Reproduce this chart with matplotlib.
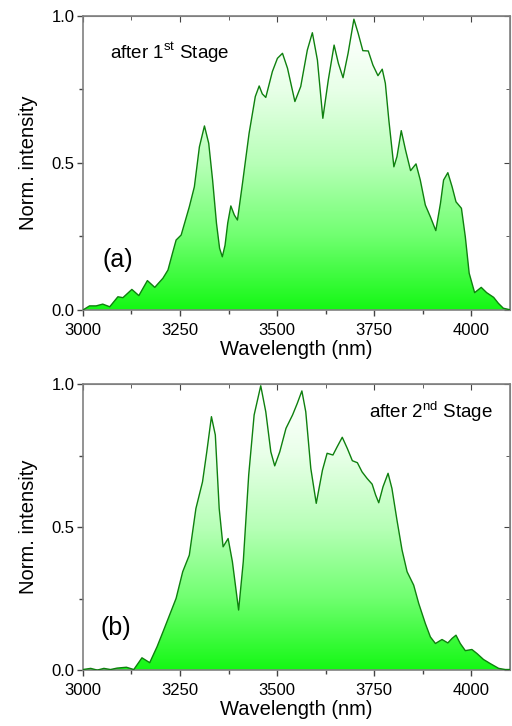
import matplotlib
matplotlib.use("Agg")
import matplotlib.pyplot as plt
import numpy as np
from matplotlib.colors import LinearSegmentedColormap

plt.rcParams['font.family'] = ['Liberation Sans', 'DejaVu Sans']
plt.rcParams['mathtext.fontset'] = 'custom'
plt.rcParams['mathtext.rm'] = 'Liberation Sans'

# (a) after 1st stage
wl_a = [3000, 3017, 3034, 3051, 3069, 3090, 3103, 3126, 3144, 3166, 3185, 3206, 3219,
        3230, 3240, 3253, 3274, 3287, 3300, 3313, 3324, 3334, 3344, 3352, 3359, 3366,
        3373, 3381, 3390, 3398, 3411, 3428, 3444, 3454, 3462, 3471, 3488, 3501, 3514,
        3527, 3546, 3561, 3578, 3591, 3604, 3618, 3632, 3647, 3658, 3670, 3683, 3698,
        3709, 3721, 3735, 3747, 3760, 3771, 3779, 3788, 3801, 3809, 3820, 3831, 3844,
        3858, 3869, 3882, 3895, 3909, 3921, 3929, 3940, 3951, 3961, 3975, 3985, 3995,
        4009, 4026, 4040, 4058, 4070, 4083, 4103]
int_a = [0.0, 0.014, 0.014, 0.02, 0.011, 0.045, 0.042, 0.07, 0.049, 0.1, 0.077, 0.108, 0.136,
         0.19, 0.238, 0.255, 0.351, 0.419, 0.555, 0.626, 0.567, 0.442, 0.295, 0.21, 0.181, 0.22,
         0.296, 0.354, 0.323, 0.306, 0.431, 0.601, 0.726, 0.762, 0.735, 0.723, 0.811, 0.856, 0.873,
         0.822, 0.709, 0.76, 0.884, 0.943, 0.85, 0.652, 0.782, 0.901, 0.839, 0.79, 0.873, 0.989,
         0.941, 0.882, 0.881, 0.833, 0.797, 0.819, 0.771, 0.646, 0.487, 0.522, 0.61, 0.544, 0.474,
         0.497, 0.442, 0.357, 0.317, 0.27, 0.363, 0.442, 0.467, 0.419, 0.368, 0.346, 0.249, 0.125,
         0.059, 0.077, 0.059, 0.043, 0.023, 0.006, 0.0]

# (b) after 2nd stage
wl_b = [3000, 3020, 3037, 3054, 3071, 3088, 3112, 3131, 3152, 3172, 3191, 3208, 3223, 3240,
        3257, 3274, 3291, 3308, 3319, 3331, 3341, 3351, 3361, 3374, 3385, 3401, 3413, 3427,
        3441, 3458, 3471, 3484, 3494, 3507, 3523, 3540, 3552, 3564, 3574, 3587, 3601, 3617,
        3629, 3644, 3655, 3668, 3681, 3694, 3707, 3719, 3732, 3745, 3754, 3762, 3773, 3786,
        3796, 3809, 3822, 3835, 3852, 3865, 3882, 3895, 3908, 3925, 3940, 3951, 3961, 3972,
        3985, 4002, 4015, 4032, 4049, 4071, 4088, 4104]
int_b = [0.002, 0.006, 0.0, 0.006, 0.002, 0.007, 0.01, 0.002, 0.043, 0.026, 0.082, 0.14, 0.192, 0.251,
         0.344, 0.402, 0.565, 0.658, 0.763, 0.886, 0.822, 0.565, 0.431, 0.46, 0.379, 0.21, 0.379, 0.682,
         0.892, 0.994, 0.903, 0.763, 0.714, 0.763, 0.845, 0.892, 0.932, 0.976, 0.903, 0.705, 0.583, 0.699,
         0.758, 0.752, 0.781, 0.814, 0.775, 0.732, 0.725, 0.693, 0.67, 0.65, 0.612, 0.585, 0.641, 0.688,
         0.635, 0.524, 0.42, 0.344, 0.297, 0.233, 0.163, 0.116, 0.093, 0.107, 0.095, 0.111, 0.122, 0.093,
         0.068, 0.072, 0.058, 0.037, 0.023, 0.006, 0.002, 0.002]

grad = LinearSegmentedColormap.from_list(
    'g', [(0.0, '#14f814'), (0.25, '#70ff70'), (0.5, '#b8ffb8'), (0.75, '#e8ffe8'), (0.95, '#ffffff'), (1.0, '#ffffff')])


def panel(ax, x, y, tag, note, note_xy, note_ha):
    poly = ax.fill_between(x, 0, y, facecolor='none', edgecolor='none')
    img = ax.imshow(np.linspace(0, 1, 256).reshape(-1, 1), cmap=grad, origin='lower',
                    extent=[3000, 4100, 0, 1], aspect='auto', zorder=1)
    img.set_clip_path(poly.get_paths()[0], transform=ax.transData)
    ax.plot(x, y, color='#0e800e', lw=1.0, zorder=3)

    ax.set_xlim(3000, 4100)
    ax.set_ylim(0, 1)
    ax.set_xticks([3000, 3250, 3500, 3750, 4000])
    ax.set_xticks(np.arange(3125, 4100, 250), minor=True)
    ax.set_yticks([0, 0.5, 1.0])
    ax.set_yticklabels(['0.0', '0.5', '1.0'])
    ax.set_yticks([0.25, 0.75], minor=True)
    ax.tick_params(which='both', direction='out', labelsize=12, color='#444444', width=1)
    ax.tick_params(which='major', length=4)
    ax.tick_params(which='minor', length=3)
    ax.tick_params(axis='x', which='major', pad=5)
    ax.tick_params(axis='y', which='major', pad=2)
    for s in ax.spines.values():
        s.set_color('#808080')
        s.set_linewidth(1.2)

    top = ax.secondary_xaxis('top')
    top.set_xticks([3000, 3250, 3500, 3750, 4000])
    top.set_xticks(np.arange(3125, 4100, 250), minor=True)
    top.tick_params(which='both', direction='in', labeltop=False, color='#444444')
    top.tick_params(which='major', length=4)
    top.tick_params(which='minor', length=3)
    top.spines['top'].set_color('#808080')
    right = ax.secondary_yaxis('right')
    right.set_yticks([0, 0.5, 1.0])
    right.set_yticks([0.25, 0.75], minor=True)
    right.tick_params(which='both', direction='in', labelright=False, color='#444444')
    right.tick_params(which='major', length=4)
    right.tick_params(which='minor', length=3)
    right.spines['right'].set_color('#808080')

    ax.set_xlabel('Wavelength (nm)', fontsize=14.5, labelpad=2)
    ax.set_ylabel('Norm. intensity', fontsize=14.5, labelpad=10)
    ax.text(tag[1], tag[2], tag[0], transform=ax.transAxes, fontsize=18, va='center')
    ax.text(note_xy[0], note_xy[1], note, transform=ax.transAxes, fontsize=13.5,
            va='center', ha=note_ha)


fig = plt.figure(figsize=(5.12, 7.26), dpi=100)
ax1 = fig.add_axes([0.162, 0.573, 0.834, 0.405])
ax2 = fig.add_axes([0.162, 0.077, 0.834, 0.394])

panel(ax1, wl_a, int_a, ('(a)', 0.045, 0.17), r'after 1$^{\mathrm{st}}$ Stage', (0.063, 0.874), 'left')
panel(ax2, wl_b, int_b, ('(b)', 0.04, 0.147), r'after 2$^{\mathrm{nd}}$ Stage', (0.96, 0.902), 'right')

fig.savefig('out.png', dpi=100)
